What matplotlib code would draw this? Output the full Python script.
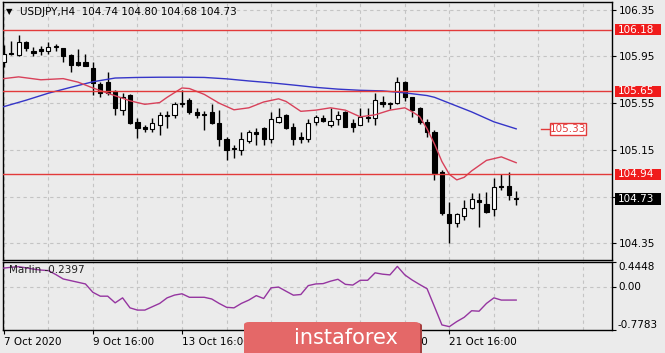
import matplotlib
matplotlib.use("Agg")
import matplotlib.pyplot as plt
from matplotlib.patches import Rectangle, FancyBboxPatch
from matplotlib.transforms import blended_transform_factory

# USDJPY H4 bars, 7 Oct 2020 16:00 onwards
opens = [105.90, 105.98, 105.96, 106.07, 106.00, 106.01, 106.00, 106.04, 106.02, 105.96,
         105.90, 105.90, 105.85, 105.71, 105.73, 105.65, 105.49, 105.62, 105.39, 105.35,
         105.33, 105.36, 105.44, 105.45, 105.55, 105.58, 105.47, 105.46, 105.47, 105.38,
         105.24, 105.16, 105.15, 105.23, 105.30, 105.34, 105.24, 105.39, 105.45, 105.35,
         105.26, 105.24, 105.39, 105.42, 105.36, 105.41, 105.47, 105.38, 105.36, 105.43,
         105.42, 105.56, 105.54, 105.55, 105.73, 105.60, 105.51, 105.39, 105.30, 104.96,
         104.60, 104.52, 104.58, 104.65, 104.72, 104.69, 104.64, 104.84, 104.84, 104.74]
highs = [106.05, 106.08, 106.13, 106.08, 106.03, 106.04, 106.07, 106.06, 106.02, 105.97,
         106.01, 105.97, 105.90, 105.73, 105.82, 105.66, 105.64, 105.63, 105.42, 105.36,
         105.42, 105.47, 105.48, 105.56, 105.66, 105.59, 105.51, 105.48, 105.54, 105.49,
         105.26, 105.19, 105.30, 105.32, 105.34, 105.35, 105.47, 105.51, 105.46, 105.38,
         105.30, 105.41, 105.45, 105.45, 105.51, 105.48, 105.48, 105.41, 105.51, 105.51,
         105.64, 105.61, 105.56, 105.77, 105.74, 105.60, 105.52, 105.41, 105.32, 104.98,
         104.70, 104.61, 104.72, 104.78, 104.78, 104.79, 104.91, 104.94, 104.96, 104.80]
lows = [105.86, 105.96, 105.95, 106.00, 105.95, 105.96, 105.97, 106.00, 105.90, 105.82,
        105.87, 105.87, 105.62, 105.60, 105.62, 105.45, 105.45, 105.37, 105.25, 105.30,
        105.30, 105.28, 105.34, 105.42, 105.52, 105.46, 105.42, 105.32, 105.37, 105.18,
        105.06, 105.08, 105.11, 105.21, 105.19, 105.19, 105.21, 105.38, 105.33, 105.19,
        105.21, 105.22, 105.36, 105.39, 105.35, 105.36, 105.35, 105.30, 105.36, 105.39,
        105.36, 105.52, 105.50, 105.54, 105.57, 105.43, 105.37, 105.26, 104.89, 104.59,
        104.35, 104.49, 104.55, 104.64, 104.49, 104.61, 104.58, 104.81, 104.72, 104.68]
closes = [105.97, 105.97, 106.07, 106.02, 105.98, 106.00, 106.03, 106.03, 105.95, 105.88,
          105.88, 105.87, 105.72, 105.64, 105.64, 105.51, 105.60, 105.38, 105.34, 105.33,
          105.38, 105.45, 105.45, 105.54, 105.54, 105.47, 105.45, 105.45, 105.38, 105.24,
          105.15, 105.17, 105.24, 105.30, 105.29, 105.24, 105.41, 105.43, 105.34, 105.24,
          105.24, 105.38, 105.43, 105.40, 105.40, 105.45, 105.35, 105.35, 105.43, 105.42,
          105.58, 105.54, 105.55, 105.73, 105.60, 105.49, 105.39, 105.30, 104.95, 104.61,
          104.52, 104.60, 104.65, 104.73, 104.70, 104.62, 104.83, 104.83, 104.76, 104.73]

# moving averages (bar index, price)
blue_idx = [0, 3, 6, 9, 12, 15, 18, 21, 24, 27, 30, 33, 36, 39, 42, 45, 48, 51, 54, 57, 58, 60, 63, 66, 69]
blue_val = [105.52, 105.575, 105.635, 105.685, 105.733, 105.765, 105.77, 105.772, 105.772, 105.77,
            105.758, 105.74, 105.724, 105.705, 105.685, 105.67, 105.66, 105.655, 105.638, 105.615,
            105.60, 105.55, 105.475, 105.39, 105.33]
red_idx = [0, 2, 5, 8, 10, 12, 14, 17, 19, 21, 22, 24, 25, 27, 29, 31, 33, 35, 37, 38, 40, 42,
           44, 46, 48, 50, 52, 54, 55, 56, 57, 58, 59, 60, 61, 62, 63, 65, 67, 69]
red_val = [105.76, 105.775, 105.75, 105.76, 105.73, 105.68, 105.635, 105.57, 105.54, 105.555,
           105.60, 105.68, 105.675, 105.625, 105.55, 105.493, 105.51, 105.56, 105.587, 105.565,
           105.48, 105.49, 105.51, 105.49, 105.433, 105.45, 105.49, 105.51, 105.476, 105.435,
           105.33, 105.20, 105.05, 104.94, 104.893, 104.915, 104.97, 105.06, 105.09, 105.04]

marlin = [0.335, 0.35, 0.36, 0.34, 0.317, 0.30, 0.29, 0.22, 0.14, 0.11,
          0.08, 0.05, -0.10, -0.17, -0.17, -0.29, -0.20, -0.38, -0.42, -0.42,
          -0.36, -0.30, -0.20, -0.15, -0.127, -0.19, -0.19, -0.19, -0.22, -0.30,
          -0.37, -0.38, -0.30, -0.24, -0.16, -0.212, -0.02, -0.006, -0.08, -0.152,
          -0.14, 0.02, 0.05, 0.056, 0.10, 0.134, 0.043, 0.03, 0.116, 0.116,
          0.25, 0.226, 0.213, 0.366, 0.213, 0.12, 0.04, -0.036, -0.36, -0.687,
          -0.718, -0.627, -0.55, -0.432, -0.44, -0.30, -0.20, -0.24, -0.24, -0.2397]

levels = [106.18, 105.65, 104.94]
last_price = 104.73
ma_label = 105.33
price_ticks = [104.35, 104.75, 105.15, 105.55, 105.95, 106.35]
price_tick_labels = ['104.35', '', '105.15', '105.55', '105.95', '106.35']
date_ticks = [0, 12, 24, 36, 48, 60]
date_labels = ['7 Oct 2020', '9 Oct 16:00', '13 Oct 16:00', '15 Oct 16:00', '19 Oct 16:00', '21 Oct 16:00']

BG = '#ebebeb'
GRID = '#c4c4c4'
LVL = '#e23a3a'
FS = 7.5
W, H = 665, 353

fig = plt.figure(figsize=(W / 100, H / 100), dpi=100, facecolor=BG)
ax = fig.add_axes([3 / W, 1 - 260 / H, 609 / W, 258 / H], facecolor=BG)
ax2 = fig.add_axes([3 / W, 1 - 330 / H, 609 / W, 68 / H], facecolor=BG)

xlim = (-0.1, 81.9)
for a in (ax, ax2):
    a.set_xlim(*xlim)
    for s in a.spines.values():
        s.set_color('black')
        s.set_linewidth(1)
    for gx in range(0, 82, 6):
        a.axvline(gx, color=GRID, lw=0.8, ls=(0, (3, 3)), zorder=0)

ax.set_ylim(104.207, 106.416)
for gy in price_ticks:
    ax.axhline(gy, color=GRID, lw=0.8, ls=(0, (3, 3)), zorder=0)

# candles
for i, (o, h, l, c) in enumerate(zip(opens, highs, lows, closes)):
    ax.vlines(i, l, h, color='black', lw=1, zorder=3)
    face = 'white' if c > o else 'black'
    ax.add_patch(Rectangle((i - 0.28, min(o, c)), 0.56, max(abs(c - o), 0.004),
                           facecolor=face, edgecolor='black', lw=0.8, zorder=4))

ax.plot(blue_idx, blue_val, color='#3535c8', lw=1, zorder=5)
ax.plot(red_idx, red_val, color='#d8415a', lw=1, zorder=5)
for p in levels:
    ax.axhline(p, color=LVL, lw=1, zorder=6)

# right price axis
ax.yaxis.tick_right()
ax.set_yticks(price_ticks)
ax.set_yticklabels(price_tick_labels)
ax.tick_params(axis='y', length=3, width=0.8, pad=2, labelsize=FS, colors='black')
ax.set_xticks([])

bt = blended_transform_factory(ax.transAxes, ax.transData)
box_h = 0.10
for p, fc in [(106.18, '#f01c1c'), (105.65, '#f01c1c'), (104.94, '#f01c1c'), (last_price, 'black')]:
    ax.add_patch(Rectangle((1 + 3 / 609, p - box_h / 2), 46 / 609, box_h, transform=bt,
                           facecolor=fc, edgecolor='none', clip_on=False, zorder=7))
    ax.text(1 + 6 / 609, p, f'{p:.2f}', transform=bt, color='white', fontsize=FS,
            va='center', ha='left', zorder=8, clip_on=False)

# MA price label
ax.plot([72.3, 73.5], [ma_label, ma_label], color=LVL, lw=1, zorder=6)
ax.add_patch(Rectangle((73.5, ma_label - box_h / 2), 4.9, box_h, facecolor='white',
                       edgecolor=LVL, lw=1, zorder=7))
ax.text(75.95, ma_label, f'{ma_label:.2f}', color=LVL, fontsize=FS, ha='center', va='center', zorder=8)

# Marlin panel
ax2.set_ylim(-0.7783, 0.4448)
ax2.axhline(0, color=GRID, lw=0.8, ls=(0, (3, 3)), zorder=0)
ax2.plot(range(len(marlin)), marlin, color='#9535a0', lw=1, zorder=3)
ax2.yaxis.tick_right()
ax2.set_yticks([-0.7783, 0.0, 0.4448])
ax2.set_yticklabels([])
ax2.tick_params(axis='y', length=3, width=0.8)
bt2 = blended_transform_factory(ax2.transAxes, ax2.transData)
ax2.text(1 + 6 / 609, 0.4448, '0.4448', transform=bt2, fontsize=FS, va='top', ha='left')
ax2.text(1 + 6 / 609, 0.0, '0.00', transform=bt2, fontsize=FS, va='center', ha='left')
ax2.text(1 + 6 / 609, -0.7783, '-0.7783', transform=bt2, fontsize=FS, va='bottom', ha='left')
ax2.text(6 / 609, 0.96, f'Marlin {marlin[-1]:.4f}', transform=ax2.transAxes, fontsize=FS,
         va='top', ha='left', color='#202020')

ax2.set_xticks(date_ticks)
ax2.set_xticklabels(date_labels)
ax2.tick_params(axis='x', length=3, width=0.8, pad=2, labelsize=FS)
for lbl in ax2.get_xticklabels():
    lbl.set_ha('left')

# header
fig.text(6 / W, 1 - 12 / H, '\u25bc', fontsize=6, va='center', ha='left')
fig.text(20 / W, 1 - 12 / H,
         f'USDJPY,H4  {opens[-1]:.2f} {highs[-1]:.2f} {lows[-1]:.2f} {closes[-1]:.2f}',
         fontsize=FS, va='center', ha='left')

# watermark
fig.patches.append(FancyBboxPatch((246 / W, -0.05), 176 / W, 0.05 + 1 - 323 / H,
                                  boxstyle='round,pad=0,rounding_size=0.008',
                                  transform=fig.transFigure, facecolor='#a84040',
                                  edgecolor='none', zorder=20))
fig.patches.append(FancyBboxPatch((244 / W, -0.05), 176 / W, 0.05 + 1 - 322 / H,
                                  boxstyle='round,pad=0,rounding_size=0.008',
                                  transform=fig.transFigure, facecolor='#e46868',
                                  edgecolor='none', zorder=21))
fig.text(346 / W, 1 - 338 / H, 'instaforex', color='white', fontsize=15,
         ha='center', va='center', zorder=22)

fig.savefig('out.png', dpi=100, facecolor=BG)
